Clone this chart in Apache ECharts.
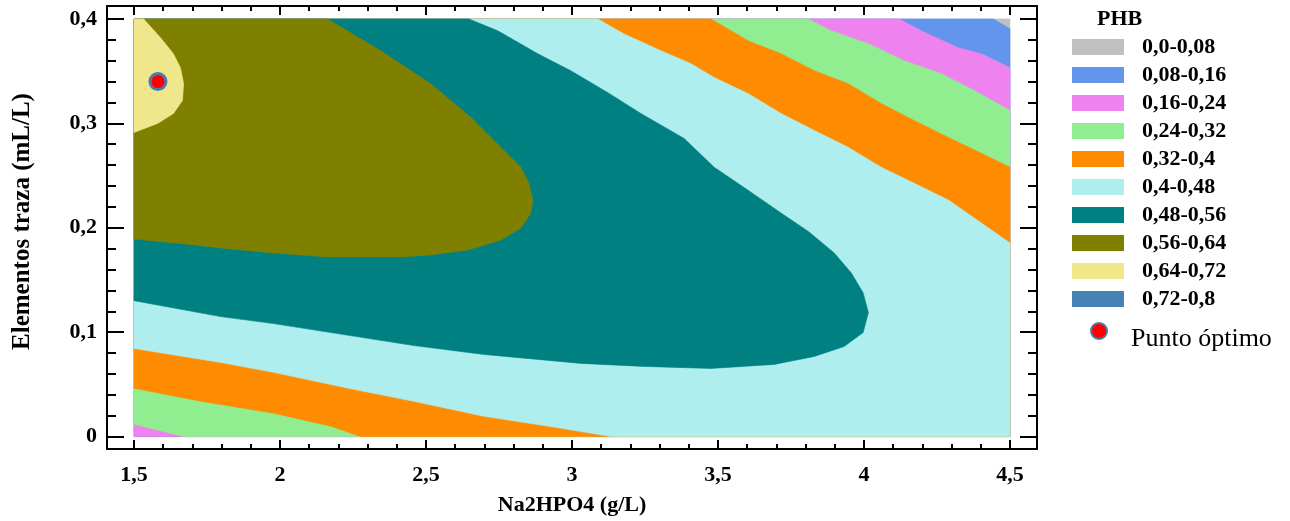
<!DOCTYPE html>
<html>
<head>
<meta charset="utf-8">
<title>PHB – Na2HPO4 vs elementos traza</title>
<script src="https://cdn.jsdelivr.net/npm/echarts@6/dist/echarts.min.js"></script>
<style>
  html, body { margin: 0; padding: 0; background: #fff; }
  #chart { width: 1290px; height: 521px; }
</style>
</head>
<body>
<div id="chart"></div>
<script>
// Experimental domain of the response surface
const xDomain = [1.5, 4.5];   // Na2HPO4 (g/L)
const yDomain = [0, 0.4];     // Elementos traza (mL/L)
const xTicks = [1.5, 2, 2.5, 3, 3.5, 4, 4.5];
const yTicks = [0, 0.1, 0.2, 0.3, 0.4];

// PHB classes shown in the legend
const bandNames = ['0,0-0,08', '0,08-0,16', '0,16-0,24', '0,24-0,32', '0,32-0,4',
                   '0,4-0,48', '0,48-0,56', '0,56-0,64', '0,64-0,72', '0,72-0,8'];
const bandColors = ['#C0C0C0', '#6495ED', '#EE82EE', '#90EE90', '#FF8C00',
                    '#AFEEEE', '#008080', '#808000', '#F0E68C', '#4682B4'];

// Iso-lines of PHB, as [Na2HPO4, elementos traza] points
// 0,08 : top edge -> right edge
const iso008 = [[4.443, 0.4], [4.5, 0.3905]];
// 0,16 : top edge -> right edge
const iso016 = [[4.121, 0.4], [4.196, 0.3886], [4.323, 0.3724], [4.402, 0.3666], [4.5, 0.3533]];
// 0,24 : upper branch (top -> right) and lower branch (left -> bottom)
const iso024Upper = [[3.809, 0.4], [3.888, 0.3886], [4.015, 0.3762], [4.138, 0.36],
                     [4.265, 0.3476], [4.378, 0.3314], [4.5, 0.3123]];
const iso024Lower = [[1.5, 0.0119], [1.67, 0]];
// 0,32
const iso032Upper = [[3.476, 0.4], [3.603, 0.379], [3.716, 0.3666], [3.83, 0.3504],
                     [3.946, 0.338], [4.059, 0.3189], [4.172, 0.3027], [4.289, 0.2865],
                     [4.402, 0.2713], [4.5, 0.2579]];
const iso032Lower = [[1.5, 0.0462], [1.728, 0.0339], [1.978, 0.0224], [2.174, 0.01], [2.276, 0]];
// 0,40
const iso040Upper = [[3.089, 0.4], [3.178, 0.3857], [3.305, 0.3695], [3.408, 0.3571],
                     [3.487, 0.3438], [3.603, 0.3285], [3.716, 0.3094], [3.83, 0.2932],
                     [3.946, 0.277], [4.059, 0.2579], [4.172, 0.2427], [4.289, 0.2265],
                     [4.402, 0.2045], [4.5, 0.1855]];
const iso040Lower = [[1.5, 0.0844], [1.797, 0.071], [1.978, 0.0615], [2.218, 0.0472],
                     [2.458, 0.0338], [2.698, 0.0195], [2.938, 0.0091], [3.134, 0]];
// 0,48 : top edge -> around the nose -> left edge
const iso048 = [[2.647, 0.4], [2.746, 0.3886], [2.883, 0.3666], [2.996, 0.3504],
                [3.123, 0.3294], [3.236, 0.3094], [3.384, 0.2856], [3.487, 0.2579],
                [3.603, 0.236], [3.716, 0.2141], [3.812, 0.1959], [3.898, 0.1759],
                [3.956, 0.1569], [3.997, 0.1378], [4.015, 0.1187], [3.997, 0.0996],
                [3.932, 0.0863], [3.83, 0.0768], [3.692, 0.0691], [3.476, 0.0653],
                [3.247, 0.0672], [3.031, 0.0701], [2.698, 0.0787], [2.458, 0.0872],
                [2.218, 0.0977], [1.978, 0.1082], [1.797, 0.1149], [1.5, 0.1302]];
// 0,56
const iso056 = [[2.163, 0.4], [2.345, 0.3695], [2.516, 0.338], [2.654, 0.3056],
                [2.732, 0.2837], [2.825, 0.2579], [2.852, 0.2427], [2.866, 0.2265],
                [2.859, 0.2141], [2.825, 0.1998], [2.757, 0.1883], [2.643, 0.1788],
                [2.517, 0.174], [2.414, 0.1721], [2.163, 0.1721], [1.978, 0.1759],
                [1.797, 0.1807], [1.676, 0.1845], [1.5, 0.1893]];
// 0,64
const iso064 = [[1.533, 0.4], [1.591, 0.3819], [1.635, 0.3666], [1.659, 0.3532],
                [1.67, 0.338], [1.666, 0.3218], [1.635, 0.3094], [1.581, 0.2999], [1.5, 0.2913]];

// Optimum point
const optimum = [1.582, 0.340];

// ---- superlevel regions (PHB >= lower bound of each class) ----
const X0 = xDomain[0], X1 = xDomain[1], Y0 = yDomain[0], Y1 = yDomain[1];
const rev = a => a.slice().reverse();
const regions = [
  [[X0, Y0], [X0, Y1], [X1, Y1], [X1, Y0]],
  [[X0, Y0], [X0, Y1], ...iso008, [X1, Y0]],
  [[X0, Y0], [X0, Y1], ...iso016, [X1, Y0]],
  [[X0, Y1], ...iso024Upper, [X1, Y0], ...rev(iso024Lower)],
  [[X0, Y1], ...iso032Upper, [X1, Y0], ...rev(iso032Lower)],
  [[X0, Y1], ...iso040Upper, [X1, Y0], ...rev(iso040Lower)],
  [[X0, Y1], ...iso048],
  [[X0, Y1], ...iso056],
  [[X0, Y1], ...iso064],
  []
];

const serif = '"Liberation Serif", "Times New Roman", serif';
const fmt = v => String(+v.toFixed(2)).replace('.', ',');
const AX_MIN = 1.4075, AX_MAX = 4.5925, AY_MIN = -0.0119, AY_MAX = 0.4124;

function minorValues(lo, hi, step, majors) {
  const out = [];
  for (let v = lo; v <= hi + 1e-9; v += step) {
    const r = +v.toFixed(3);
    if (!majors.some(m => Math.abs(m - r) < 1e-6)) out.push(r);
  }
  return out;
}
const xMinor = minorValues(1.5, 4.5, 0.1, xTicks);
const yMinor = minorValues(0, 0.4, 0.02, yTicks);

const lineStyle = { color: '#000', width: 2 };
const labelFont = { fontFamily: serif, fontWeight: 'bold', fontSize: 22, color: '#000' };
function xAxisDef(position, values, len, showLine, showLabel, extra) {
  return Object.assign({
    type: 'value', position, min: AX_MIN, max: AX_MAX,
    axisLine: { show: showLine, onZero: false, lineStyle },
    axisTick: { show: true, inside: true, length: len, customValues: values, lineStyle: { color: '#000', width: 2 } },
    axisLabel: Object.assign({ show: showLabel, customValues: values, formatter: fmt, margin: 15 }, labelFont),
    splitLine: { show: false }
  }, extra || {});
}
function yAxisDef(position, values, len, showLine, showLabel, extra) {
  return Object.assign({
    type: 'value', position, min: AY_MIN, max: AY_MAX,
    axisLine: { show: showLine, onZero: false, lineStyle },
    axisTick: { show: true, inside: true, length: len, customValues: values, lineStyle: { color: '#000', width: 2 } },
    axisLabel: Object.assign({ show: showLabel, customValues: values, formatter: fmt, margin: 10 }, labelFont),
    splitLine: { show: false }
  }, extra || {});
}

const series = bandNames.map((name, i) => ({
  name,
  type: 'custom',
  xAxisIndex: 0, yAxisIndex: 0,
  clip: true,
  z: 2,
  itemStyle: { color: bandColors[i] },
  data: regions[i].length ? [[X0, Y0]] : [],
  renderItem: (params, api) => ({
    type: 'polygon',
    z2: i,
    shape: { points: regions[i].map(p => api.coord(p)) },
    style: { fill: bandColors[i], stroke: bandColors[i], lineWidth: 0.6 }
  })
}));

series.push({
  name: 'Punto óptimo',
  type: 'scatter',
  xAxisIndex: 0, yAxisIndex: 0,
  z: 5,
  symbol: 'circle',
  symbolSize: 16,
  itemStyle: { color: '#FF0000', borderColor: '#4F79AC', borderWidth: 3, opacity: 1 },
  data: [optimum]
});

const chart = echarts.init(document.getElementById('chart'), null, { renderer: 'canvas' });
chart.setOption({
  animation: false,
  backgroundColor: '#fff',
  title: {
    text: 'PHB', left: 1097, top: 8, padding: 0,
    textStyle: { fontFamily: serif, fontWeight: 'bold', fontSize: 22, color: '#000' }
  },
  grid: { left: 107, right: 253, top: 6, bottom: 71, containLabel: false },
  xAxis: [
    xAxisDef('bottom', xTicks, 9, true, true, {
      name: 'Na2HPO4 (g/L)', nameLocation: 'middle', nameGap: 45,
      nameTextStyle: { fontFamily: serif, fontWeight: 'bold', fontSize: 22, color: '#000' }
    }),
    xAxisDef('bottom', xMinor, 5, false, false),
    xAxisDef('top', xTicks, 9, true, false),
    xAxisDef('top', xMinor, 5, false, false)
  ],
  yAxis: [
    yAxisDef('left', yTicks, 17, true, true, {
      name: 'Elementos traza (mL/L)', nameLocation: 'middle', nameGap: 72,
      nameTextStyle: { fontFamily: serif, fontWeight: 'bold', fontSize: 25, color: '#000', padding: [0, 0, 0, 12] }
    }),
    yAxisDef('left', yMinor, 9, false, false),
    yAxisDef('right', yTicks, 17, true, false),
    yAxisDef('right', yMinor, 9, false, false)
  ],
  legend: [
    {
      data: bandNames, orient: 'vertical', left: 1072, top: 36, padding: 0,
      icon: 'rect', itemWidth: 52, itemHeight: 16, itemGap: 6,
      selectedMode: false,
      textStyle: { fontFamily: serif, fontWeight: 'bold', fontSize: 22, color: '#000', padding: [0, 0, 0, 13] }
    },
    {
      data: ['Punto óptimo'], orient: 'vertical', left: 1090, top: 322, padding: 0,
      icon: 'circle', itemWidth: 16, itemHeight: 17,
      selectedMode: false,
      formatter: '{t|{name}}',
      textStyle: {
        fontFamily: serif, fontSize: 26, color: '#000',
        rich: { t: { fontFamily: serif, fontSize: 26, color: '#000', padding: [16, 0, 0, 19] } }
      }
    }
  ],
  series
});
</script>
</body>
</html>
